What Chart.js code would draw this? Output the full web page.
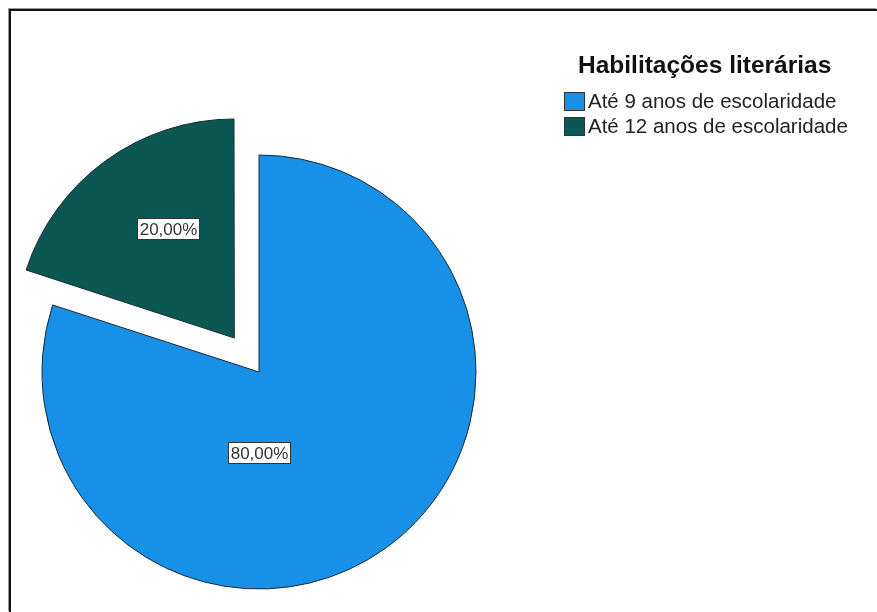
<!DOCTYPE html>
<html lang="pt">
<head>
<meta charset="utf-8">
<title>Habilitações literárias</title>
<script src="https://cdn.jsdelivr.net/npm/chart.js@4.4.1/dist/chart.umd.min.js"></script>
<style>
  html, body { margin: 0; padding: 0; background: #fff; }
  #moldura {
    position: absolute; left: 9px; top: 9px; width: 868px; height: 603px;
    border-top: 2px solid #111; border-left: 2px solid #111;
    box-shadow: -1px -1px 0 #999; box-sizing: border-box;
  }
  #grafico { position: absolute; left: 0; top: 0; }
</style>
</head>
<body>
<div id="moldura"></div>
<canvas id="grafico" width="877" height="612"></canvas>
<script>
// Habilitações literárias - gráfico circular
const tituloLegenda = 'Habilitações literárias';
const categorias = ['Até 9 anos de escolaridade', 'Até 12 anos de escolaridade'];
const percentagens = [80, 20];
const cores = ['#1790e8', '#0b5852'];

// fatia destacada (o Chart.js desloca offset/4)
const afastamento = [0, 168];

const fonte = '"Liberation Sans", Arial, sans-serif';

// caixas brancas com a percentagem de cada fatia
const rotulos = {
    id: 'rotulos',
    afterDatasetsDraw(chart, args, opts) {
        const ctx = chart.ctx;
        const meta = chart.getDatasetMeta(0);
        const total = percentagens.reduce((a, b) => a + b, 0);
        ctx.save();
        ctx.font = '17px ' + fonte;
        ctx.textAlign = 'center';
        ctx.textBaseline = 'middle';
        meta.data.forEach((arc, i) => {
            const p = opts.posicoes[i];
            const ang = p.angulo * Math.PI / 180;
            const x = arc.x + Math.cos(ang) * arc.outerRadius * p.raio;
            const y = arc.y + Math.sin(ang) * arc.outerRadius * p.raio;
            const texto = (percentagens[i] / total * 100).toFixed(2).replace('.', ',') + '%';
            const w = Math.round(ctx.measureText(texto).width + 4);
            const h = 21;
            const bx = Math.round(x - w / 2), by = Math.round(y - h / 2);
            ctx.fillStyle = '#fff';
            ctx.fillRect(bx, by, w, h);
            ctx.strokeStyle = '#333';
            ctx.lineWidth = 1;
            ctx.strokeRect(bx + 0.5, by + 0.5, w, h);
            ctx.fillStyle = '#333';
            ctx.fillText(texto, bx + w / 2 + 0.5, by + h / 2 + 1.5);
        });
        ctx.restore();
    }
};

// legenda com título, à direita
const legenda = {
    id: 'legenda',
    afterDraw(chart, args, opts) {
        const ctx = chart.ctx;
        ctx.save();
        ctx.textBaseline = 'alphabetic';
        ctx.textAlign = 'left';
        ctx.fillStyle = '#111';
        ctx.font = 'bold 24.5px ' + fonte;
        ctx.fillText(tituloLegenda, opts.x + 14, 73);
        ctx.font = '20.5px ' + fonte;
        categorias.forEach((nome, i) => {
            const y = 92 + i * 25;
            ctx.fillStyle = cores[i];
            ctx.fillRect(opts.x, y, 21, 19);
            ctx.strokeStyle = '#2b3540';
            ctx.lineWidth = 1;
            ctx.strokeRect(opts.x + 0.5, y + 0.5, 20, 18);
            ctx.fillStyle = '#222';
            ctx.fillText(nome, opts.x + 24, y + 16);
        });
        ctx.restore();
    }
};

const ctx = document.getElementById('grafico');
new Chart(ctx, {
    type: 'pie',
    data: {
        labels: categorias,
        datasets: [{
            data: percentagens,
            backgroundColor: cores,
            borderColor: '#1c2833',
            borderWidth: 1,
            hoverBorderWidth: 1,
            offset: afastamento
        }]
    },
    options: {
        responsive: false,
        animation: false,
        events: [],
        radius: 217,
        layout: {
            padding: { left: 20, right: 379, top: 132, bottom: 0 }
        },
        plugins: {
            legend: { display: false },
            tooltip: { enabled: false },
            rotulos: {
                posicoes: [
                    { angulo: 90, raio: 0.369 },
                    { angulo: -122.5, raio: 0.783 }
                ]
            },
            legenda: { x: 564 }
        }
    },
    plugins: [rotulos, legenda]
});
</script>
</body>
</html>
